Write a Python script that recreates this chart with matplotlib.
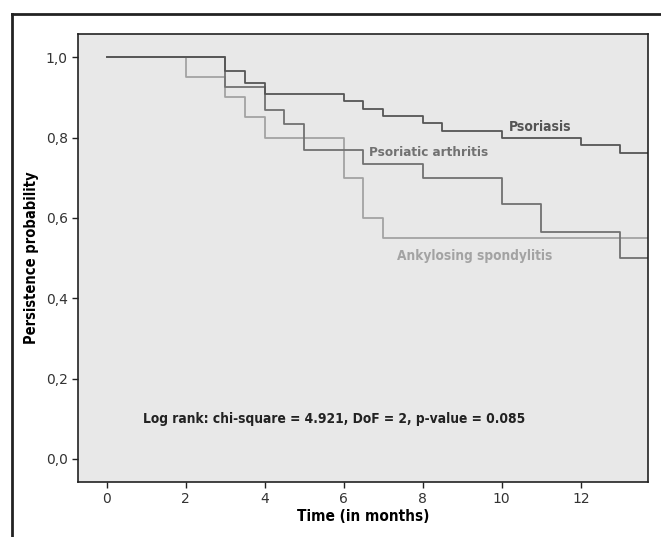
import matplotlib.pyplot as plt
import matplotlib.lines as mlines

# Kaplan-Meier step data (time in months, persistence probability)
pso_t = [0, 3, 3.5, 4, 6, 6.5, 7, 8, 8.5, 10, 12, 13, 14]
pso_s = [1.0, 0.966, 0.935, 0.908, 0.891, 0.872, 0.854, 0.836, 0.817, 0.798, 0.781, 0.762, 0.762]

psa_t = [0, 3, 4, 4.5, 5, 6.5, 8, 10, 11, 13, 14]
psa_s = [1.0, 0.926, 0.868, 0.833, 0.769, 0.734, 0.700, 0.635, 0.566, 0.500, 0.500]

as_t = [0, 2, 3, 3.5, 4, 6, 6.5, 7, 14]
as_s = [1.0, 0.950, 0.900, 0.850, 0.800, 0.700, 0.600, 0.550, 0.550]

yticks = [0.0, 0.2, 0.4, 0.6, 0.8, 1.0]
ytick_labels = ["0,0", "0,2", "0,4", "0,6", "0,8", "1,0"]
xticks = [0, 2, 4, 6, 8, 10, 12]

c_pso = "#555555"
c_psa = "#717171"
c_as = "#a3a3a3"
lbl = dict(fontweight="bold", family="DejaVu Sans", fontstretch="condensed")

fig = plt.figure(figsize=(6.61, 5.37), dpi=100)
ax = fig.add_axes([0.1185, 0.1030, 0.8623, 0.8331])
ax.set_facecolor("#e8e8e8")

ax.step(as_t, as_s, where="post", color=c_as, lw=1.3)
ax.step(psa_t, psa_s, where="post", color=c_psa, lw=1.3)
ax.step(pso_t, pso_s, where="post", color=c_pso, lw=1.3)

ax.set_xlim(-0.717, 13.71)
ax.set_ylim(-0.0565, 1.057)
ax.set_xticks(xticks)
ax.set_yticks(yticks)
ax.set_yticklabels(ytick_labels)
ax.tick_params(direction="out", length=4, width=1, colors="#222222",
               labelsize=10, labelcolor="#333333")
for sp in ax.spines.values():
    sp.set_linewidth(1.2)
    sp.set_color("#222222")

ax.set_xlabel("Time (in months)", fontsize=11, labelpad=2, **lbl)
ax.set_ylabel("Persistence probability", fontsize=10.5, labelpad=5, **lbl)

ax.text(10.19, 0.827, "Psoriasis", color=c_pso, fontsize=10, va="center", **lbl)
ax.text(6.64, 0.763, "Psoriatic arthritis", color=c_psa, fontsize=9.6,
        va="center", **lbl)
ax.text(7.36, 0.506, "Ankylosing spondylitis", color=c_as, fontsize=9.8,
        va="center", **lbl)
ax.text(0.93, 0.10, "Log rank: chi-square = 4.921, DoF = 2, p-value = 0.085",
        color="#222222", fontsize=9.9, va="center", **lbl)

# cropped outer frame (top and left edges only)
fig.add_artist(mlines.Line2D([12 / 661, 1.0], [1 - 14 / 537, 1 - 14 / 537],
                             transform=fig.transFigure, color="#222222", lw=2))
fig.add_artist(mlines.Line2D([12 / 661, 12 / 661], [0.0, 1 - 14 / 537],
                             transform=fig.transFigure, color="#222222", lw=2))

fig.savefig("out.png", dpi=100)
